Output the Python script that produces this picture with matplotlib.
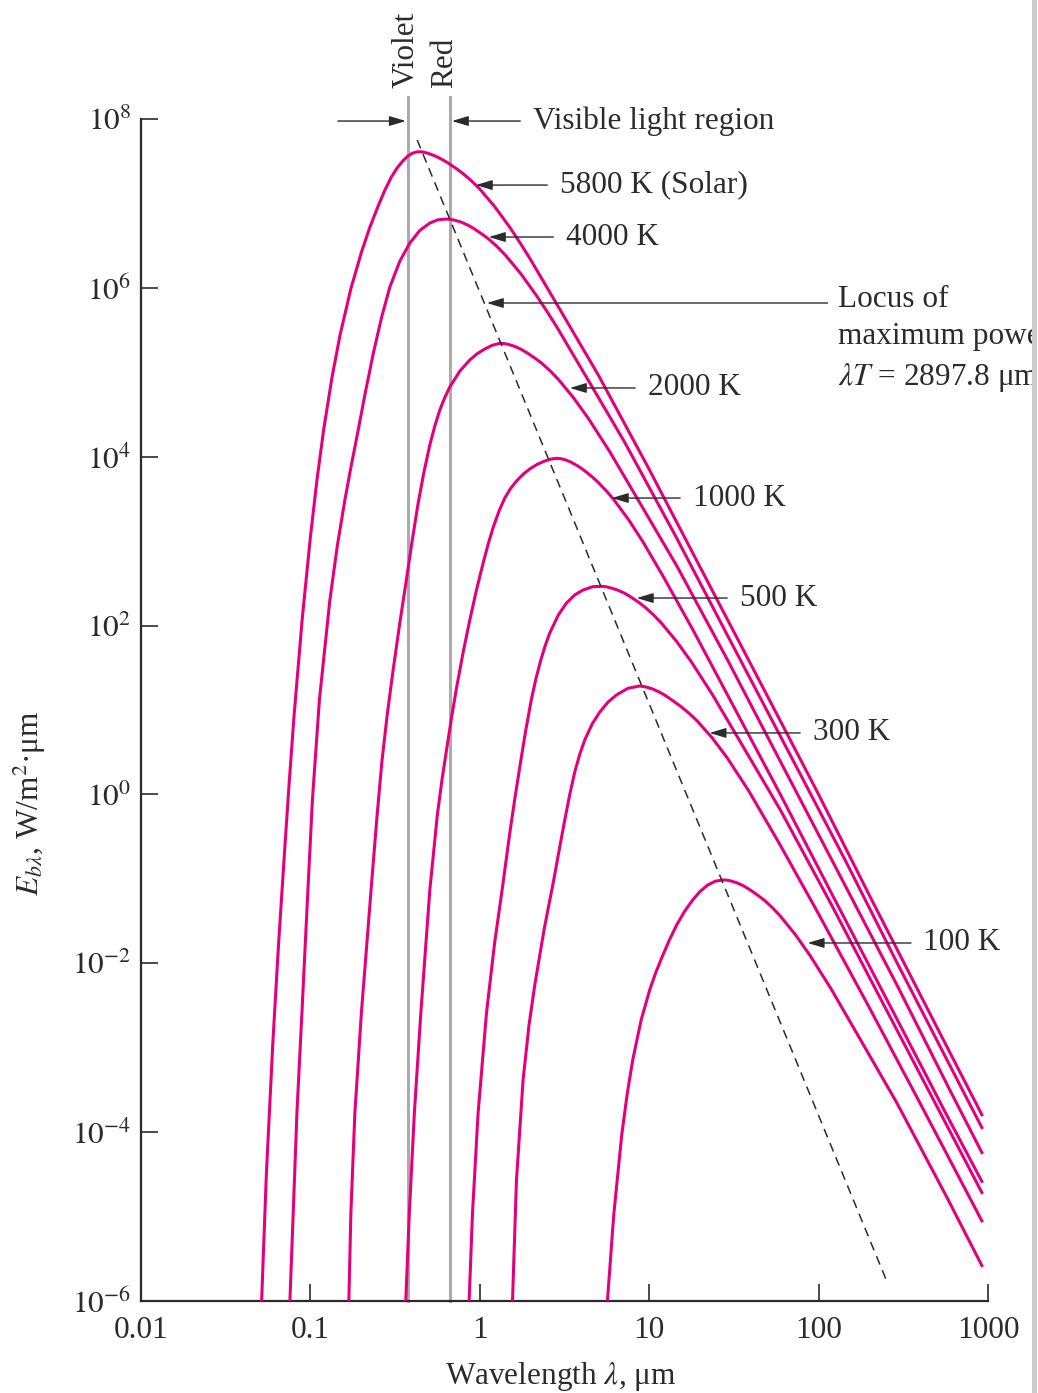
import numpy as np
import matplotlib
matplotlib.use("Agg")
import matplotlib.pyplot as plt
from matplotlib.patches import Rectangle
from matplotlib.transforms import Bbox, TransformedBbox

plt.rcParams['font.family'] = ['Liberation Serif', 'DejaVu Serif']
plt.rcParams['mathtext.fontset'] = 'stix'
plt.rcParams['lines.scale_dashes'] = False

# blackbody curves, kept as log10 values
# (wavelength in um, E_b_lambda in W/m2.um)
temps = [5800, 4000, 2000, 1000, 500, 300, 100]

log_wl_5800 = [-1.288, -1.26, -1.222, -1.1885, -1.155, -1.126, -1.097, -1.0485, -1.0, -0.9605,
               -0.921, -0.8725, -0.824, -0.7615, -0.699, -0.6505, -0.602, -0.5625, -0.523, -0.4895,
               -0.456, -0.427, -0.398, -0.3725, -0.347, -0.324, -0.301, -0.2615, -0.222, -0.1885,
               -0.155, -0.126, -0.097, -0.0485, 0.0, 0.088, 0.176, 0.2385, 0.301, 0.477,
               0.699, 1.0, 1.301, 1.699, 2.0, 2.301, 2.699, 2.968]
log_E_5800 = [-6.0, -4.5, -2.95, -1.791, -0.75, 0.117, 0.92, 2.075, 3.05, 3.737,
              4.33, 4.94, 5.45, 5.987, 6.42, 6.71, 6.96, 7.148, 7.31, 7.417,
              7.50, 7.557, 7.595, 7.610, 7.612, 7.604, 7.59, 7.56, 7.52, 7.48,
              7.435, 7.394, 7.35, 7.266, 7.17, 6.962, 6.72, 6.531, 6.33, 5.73,
              4.97, 3.85, 2.69, 1.16, 0.0, -1.2, -2.76, -3.81]

log_wl_4000 = [-1.121, -1.1015, -1.0796, -1.0501, -1.0147, -0.9882, -0.9469, -0.885, -0.8408, -0.7965,
               -0.7611, -0.7257, -0.677, -0.6283, -0.5797, -0.531, -0.472, -0.413, -0.354, -0.295,
               -0.2475, -0.2, -0.1745, -0.149, -0.109, -0.0695, -0.0358, -0.002, 0.027, 0.056,
               0.1048, 0.1535, 0.2418, 0.330, 0.393, 0.456, 0.6325, 0.855, 1.158, 1.460,
               1.860, 2.162, 2.464, 2.864, 2.968]
log_E_4000 = [-6.0, -4.957, -3.773, -2.589, -1.132, -0.066, 1.119, 2.303, 2.949, 3.487,
              3.873, 4.234, 4.747, 5.228, 5.652, 6.010, 6.317, 6.531, 6.680, 6.768,
              6.806, 6.815, 6.811, 6.802, 6.778, 6.742, 6.703, 6.657, 6.617, 6.572,
              6.483, 6.382, 6.168, 5.922, 5.732, 5.532, 4.932, 4.172, 3.052, 1.892,
              0.362, -0.798, -1.998, -3.558, -3.962]

log_wl_2000 = [-0.773, -0.7611, -0.7375, -0.6991, -0.6372, -0.6077, -0.5782, -0.5458, -0.5133, -0.4735,
               -0.4336, -0.3997, -0.3658, -0.3304, -0.295, -0.2655, -0.236, -0.2065, -0.177, -0.118,
               -0.059, -0.01475, 0.0295, 0.07375, 0.118, 0.141, 0.164, 0.2035, 0.243, 0.2765,
               0.310, 0.339, 0.368, 0.4165, 0.465, 0.553, 0.641, 0.766, 0.942, 1.164,
               1.465, 1.766, 2.164, 2.465, 2.766, 2.968]
log_E_2000 = [-6.0, -4.957, -3.773, -2.589, -1.013, -0.282, 0.384, 0.956, 1.45, 2.013,
              2.54, 2.999, 3.428, 3.812, 4.139, 4.365, 4.553, 4.702, 4.826, 5.014,
              5.146, 5.221, 5.276, 5.32, 5.343, 5.341, 5.333, 5.309, 5.273, 5.234,
              5.188, 5.148, 5.103, 5.014, 4.913, 4.699, 4.453, 4.063, 3.463, 2.703,
              1.583, 0.423, -1.107, -2.267, -3.467, -4.258]

log_wl_1000 = [-0.437, -0.4159, -0.3864, -0.3481, -0.295, -0.2507, -0.2236, -0.1965, -0.167, -0.1375,
               -0.09825, -0.059, -0.01975, 0.0195, 0.049, 0.0785, 0.113, 0.1475, 0.182, 0.2165,
               0.2558, 0.295, 0.3393, 0.3835, 0.418, 0.4525, 0.475, 0.4975, 0.5361, 0.5747,
               0.6074, 0.640, 0.6685, 0.697, 0.7444, 0.7917, 0.8777, 0.9637, 1.086, 1.258,
               1.475, 1.769, 2.063, 2.452, 2.7465, 2.968]
log_E_1000 = [-6.0, -4.957, -3.773, -2.588, -1.132, -0.243, 0.168, 0.526, 0.907, 1.261,
              1.684, 2.066, 2.42, 2.74, 2.962, 3.16, 3.354, 3.511, 3.625, 3.712,
              3.793, 3.855, 3.91, 3.949, 3.971, 3.981, 3.978, 3.968, 3.938, 3.895,
              3.851, 3.80, 3.752, 3.70, 3.601, 3.49, 3.256, 2.99, 2.57, 1.95,
              1.13, 0.02, -1.12, -2.62, -3.76, -4.60]

log_wl_500 = [-0.063, -0.0431, -0.010, 0.0395, 0.0876, 0.1357, 0.177, 0.2065, 0.236, 0.2699,
              0.3038, 0.3319, 0.36, 0.3865, 0.413, 0.4623, 0.5115, 0.5605, 0.6094, 0.6676,
              0.7257, 0.7488, 0.7718, 0.8114, 0.851, 0.8845, 0.918, 0.947, 0.976, 1.0245,
              1.073, 1.1615, 1.250, 1.375, 1.551, 1.774, 2.075, 2.377, 2.776, 2.968]
log_E_500 = [-6.0, -4.957, -3.773, -2.588, -1.757, -1.073, -0.457, -0.054, 0.325, 0.744,
             1.119, 1.375, 1.592, 1.765, 1.912, 2.121, 2.267, 2.363, 2.421, 2.461,
             2.465, 2.458, 2.447, 2.422, 2.387, 2.348, 2.302, 2.262, 2.217, 2.128,
             2.027, 1.813, 1.567, 1.177, 0.577, -0.183, -1.303, -2.463, -3.993, -4.732]

log_wl_300 = [0.193, 0.2165, 0.2555, 0.29, 0.3245, 0.3806, 0.4366, 0.469, 0.5015, 0.531,
              0.5605, 0.59, 0.6195, 0.6638, 0.708, 0.7573, 0.8065, 0.8753, 0.944, 0.9786,
              1.0186, 1.0586, 1.0925, 1.1264, 1.1852, 1.2343, 1.2834, 1.3725, 1.4616, 1.5882,
              1.7664, 1.9912, 2.296, 2.6008, 2.968]
log_E_300 = [-6.0, -4.567, -3.382, -2.74, -2.257, -1.588, -1.013, -0.653, -0.303, -0.002,
             0.266, 0.475, 0.645, 0.836, 0.976, 1.094, 1.178, 1.258, 1.284, 1.274,
             1.25, 1.214, 1.175, 1.129, 1.044, 0.963, 0.87, 0.668, 0.43, 0.04,
             -0.575, -1.384, -2.512, -3.664, -5.067]

log_wl_100 = [0.7534, 0.7906, 0.8378, 0.87025, 0.9027, 0.95285, 1.003, 1.03835, 1.0737, 1.118,
              1.1622, 1.2094, 1.2566, 1.30085, 1.3451, 1.38935, 1.4336, 1.4564, 1.4792, 1.518,
              1.5568, 1.58975, 1.6227, 1.6797, 1.72735, 1.775, 1.86145, 1.9479, 2.0707, 2.2437,
              2.4618, 2.7576, 2.968]
log_E_100 = [-6.0, -4.981, -4.034, -3.545, -3.145, -2.668, -2.316, -2.112, -1.937, -1.729,
             -1.546, -1.383, -1.250, -1.148, -1.073, -1.029, -1.013, -1.015, -1.023, -1.047,
             -1.083, -1.123, -1.168, -1.253, -1.342, -1.443, -1.657, -1.903, -2.293, -2.893,
             -3.653, -4.773, -5.597]

curves = {
    5800: (log_wl_5800, log_E_5800),
    4000: (log_wl_4000, log_E_4000),
    2000: (log_wl_2000, log_E_2000),
    1000: (log_wl_1000, log_E_1000),
    500: (log_wl_500, log_E_500),
    300: (log_wl_300, log_E_300),
    100: (log_wl_100, log_E_100),
}

# locus of maximum power (dashed), end points
locus_wl = [0.427, 251.0]
locus_E = [5.64e7, 1.77e-6]

# visible band limits
violet_wl = 0.376
red_wl = 0.665

x_ticks = [0.01, 0.1, 1, 10, 100, 1000]
x_ticklabels = ['0.01', '0.1', '1', '10', '100', '1000']
y_ticks = [1e8, 1e6, 1e4, 1e2, 1e0, 1e-2, 1e-4, 1e-6]
y_ticklabels = [r'$10^{8}$', r'$10^{6}$', r'$10^{4}$', r'$10^{2}$',
                r'$10^{0}$', r'$10^{-2}$', r'$10^{-4}$', r'$10^{-6}$']

# curve labels: text, arrow tip (wl, E), text start wl
curve_labels = [
    ('5800 K (Solar)', 0.947, 1.65e7, 2.965),
    ('4000 K', 1.13, 4.0e6, 3.22),
    ('2000 K', 3.40, 6.52e4, 9.8),
    ('1000 K', 6.01, 3.24e3, 18.06),
    ('500 K', 8.44, 212, 34.2),
    ('300 K', 22.7, 5.35, 92.2),
    ('100 K', 86.1, 0.0174, 416),
]

pink = '#E4007C'
ink = '#2b2b2b'
fs = 22.5

fig = plt.figure(figsize=(10.38, 13.93), dpi=100)
ax = fig.add_axes([141 / 1038, 92 / 1393, 847 / 1038, 1182 / 1393])
ax.set_xscale('log')
ax.set_yscale('log')
ax.set_xlim(0.01, 1000)
ax.set_ylim(1e-6, 1e8)

# visible light lines (run up above the axes)
for wl in (violet_wl, red_wl):
    ax.plot([wl, wl], [1e-6, 1.82e8], color='#ababab', lw=2.2, clip_on=False, zorder=1)

for T in temps:
    lw_, le_ = curves[T]
    ax.plot(10 ** np.array(lw_), 10 ** np.array(le_), color=pink, lw=2.2,
            solid_capstyle='butt', solid_joinstyle='round', zorder=3)

ax.plot(locus_wl, locus_E, color=ink, lw=1.1, dashes=(6.5, 4.5), zorder=4)

arrow = dict(arrowstyle='-|>,head_length=0.5,head_width=0.15', mutation_scale=20,
             lw=1.0, color=ink, shrinkA=7, shrinkB=0)

for txt, tip_wl, tip_E, text_wl in curve_labels:
    ax.annotate(txt, xy=(tip_wl, tip_E), xytext=(text_wl, tip_E),
                ha='left', va='center', fontsize=fs, color=ink,
                arrowprops=arrow, zorder=5)

# visible light region arrows
vis_E = 9.46e7
ax.annotate('', xy=(0.366, vis_E), xytext=(0.1453, vis_E),
            arrowprops=dict(arrow, shrinkA=0), zorder=5)
ax.annotate('Visible light region', xy=(0.684, vis_E), xytext=(2.055, vis_E),
            ha='left', va='center', fontsize=fs, color=ink, arrowprops=arrow, zorder=5)

ax.text(0.366, 2.33e8, 'Violet', rotation=90, ha='center', va='bottom',
        fontsize=fs, color=ink, clip_on=False)
ax.text(0.622, 2.33e8, 'Red', rotation=90, ha='center', va='bottom',
        fontsize=fs, color=ink, clip_on=False)

# locus label (cut by the page edge, as in the scan)
ax.annotate('', xy=(1.10, 6.62e5), xytext=(113, 6.62e5),
            arrowprops=dict(arrow, shrinkA=0), zorder=5)
locus_txt = ax.text(129.5, 1.08e6, 'Locus of\nmaximum power:\n$\\lambda T$ = 2897.8 μm·K',
                    ha='left', va='top', fontsize=fs, color=ink, linespacing=1.38)
locus_txt.set_clip_box(TransformedBbox(Bbox([[0, 0], [1032 / 1038, 1]]), fig.transFigure))
locus_txt.set_clip_on(True)

ax.set_xticks(x_ticks)
ax.set_xticklabels(x_ticklabels)
ax.set_yticks(y_ticks)
ax.set_yticklabels(y_ticklabels)
ax.minorticks_off()
ax.tick_params(direction='in', length=12.5, width=1.2, color=ink, labelcolor=ink,
               labelsize=fs)
ax.tick_params(axis='x', pad=11)
ax.tick_params(axis='y', pad=7)

for s in ('top', 'right'):
    ax.spines[s].set_visible(False)
for s in ('left', 'bottom'):
    ax.spines[s].set_color(ink)
    ax.spines[s].set_linewidth(1.6)

ax.set_xlabel('Wavelength $\\lambda$, μm', fontsize=fs, color=ink)
ax.xaxis.set_label_coords(0.495, -0.05)
ax.set_ylabel('$E_{b\\lambda}$, W/m$^2$·μm', fontsize=fs, color=ink)
ax.yaxis.set_label_coords(-0.1098, 0.421)

# page edge on the right
fig.add_artist(Rectangle((1032 / 1038, 0), 5 / 1038, 1, transform=fig.transFigure,
                         color='#cccccc', lw=0, zorder=10))

fig.savefig('out.png', dpi=100)
